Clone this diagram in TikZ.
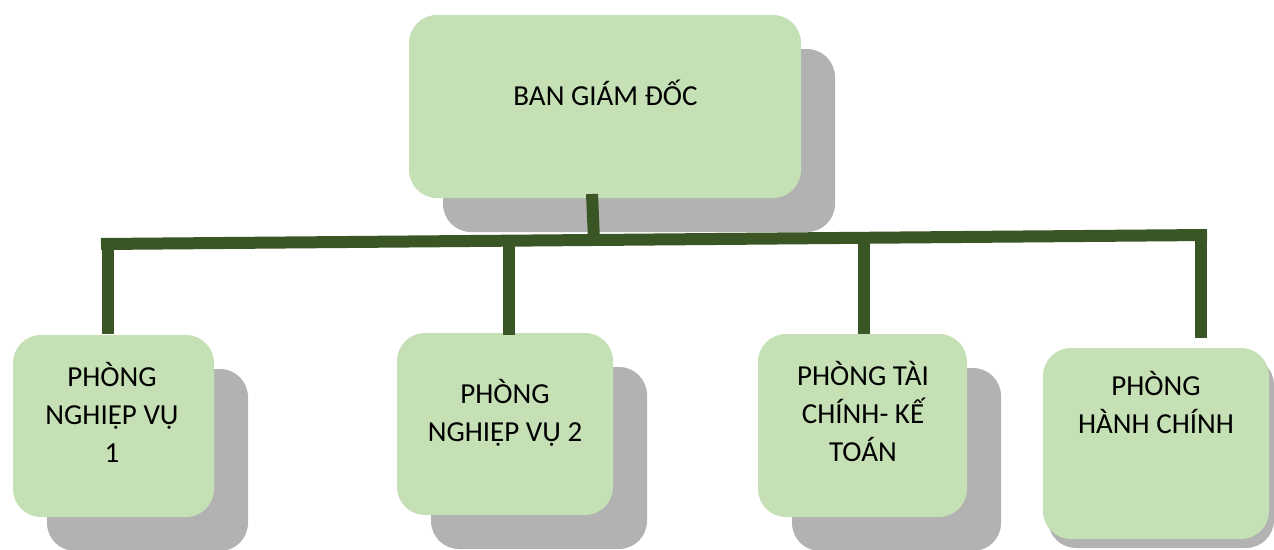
\documentclass[tikz,border=0pt]{standalone}
\usepackage{fontspec}
\setmainfont{Carlito}
\definecolor{boxgreen}{HTML}{C5E0B4}
\definecolor{shadowgray}{HTML}{B2B2B2}
\definecolor{linegreen}{HTML}{3A5624}
\tikzset{
  boxshape/.style={fill=boxgreen, draw=none, rounded corners=28pt, inner sep=0pt},
  shadowshape/.style={fill=shadowgray, draw=none, rounded corners=28pt, inner sep=0pt},
  boxtext/.style={anchor=base, align=center, inner sep=0pt, font=\fontsize{29pt}{38pt}\selectfont, text=black},
  conn/.style={draw=linegreen, line width=12pt, line cap=butt}
}
\begin{document}
\begin{tikzpicture}[x=1pt,y=-1pt]
\useasboundingbox (0,0) rectangle (1274,549);
\begin{scope}
\clip (0,0) rectangle (1274,549);
% shadows
\node[shadowshape, minimum width=392pt, minimum height=183pt] (s0) at (639,140.5) {};
\node[shadowshape, minimum width=201pt, minimum height=182pt] (s1) at (147.5,460) {};
\node[shadowshape, minimum width=216pt, minimum height=182pt] (s2) at (539,458) {};
\node[shadowshape, minimum width=209pt, minimum height=183pt] (s3) at (896.5,459.5) {};
\node[shadowshape, minimum width=226pt, minimum height=191pt] (s4) at (1161,452.5) {};
% boxes
\node[boxshape, minimum width=392pt, minimum height=183pt] (b0) at (605,106.5) {};
\node[boxshape, minimum width=201pt, minimum height=182pt] (b1) at (113.5,426) {};
\node[boxshape, minimum width=216pt, minimum height=182pt] (b2) at (505,424) {};
\node[boxshape, minimum width=209pt, minimum height=183pt] (b3) at (862.5,425.5) {};
\node[boxshape, minimum width=226pt, minimum height=191pt] (b4) at (1156,443.5) {};
\end{scope}
% connector coordinates
\coordinate (trunktop) at (592,194);
\coordinate (trunkbot) at (594,240);
\coordinate (barL) at (101,244);
\coordinate (barR) at (1207,235);
\coordinate (d1t) at (108,244);
\coordinate (d1b) at (108,334);
\coordinate (d2t) at (509,241);
\coordinate (d2b) at (509,335);
\coordinate (d3t) at (864,238);
\coordinate (d3b) at (864,334);
\coordinate (d4t) at (1201,229);
\coordinate (d4b) at (1201,338);
% connectors
\draw[conn] (trunktop) -- (trunkbot);
\draw[conn] (barL) -- (barR);
\draw[conn] (d1t) -- (d1b);
\draw[conn] (d2t) -- (d2b);
\draw[conn] (d3t) -- (d3b);
\draw[conn] (d4t) -- (d4b);
% texts (base anchor = baseline of last line)
\node[boxtext] (t0) at (605.5,105) {BAN GIÁM ĐỐC};
\node[boxtext] (t1) at (112,462) {PHÒNG\\NGHIỆP VỤ\\1};
\node[boxtext] (t2) at (505,441) {PHÒNG\\NGHIỆP VỤ 2};
\node[boxtext] (t3) at (863,461) {PHÒNG TÀI\\CHÍNH- KẾ\\TOÁN};
\node[boxtext] (t4) at (1156,433) {PHÒNG\\HÀNH CHÍNH};
\end{tikzpicture}
\end{document}
